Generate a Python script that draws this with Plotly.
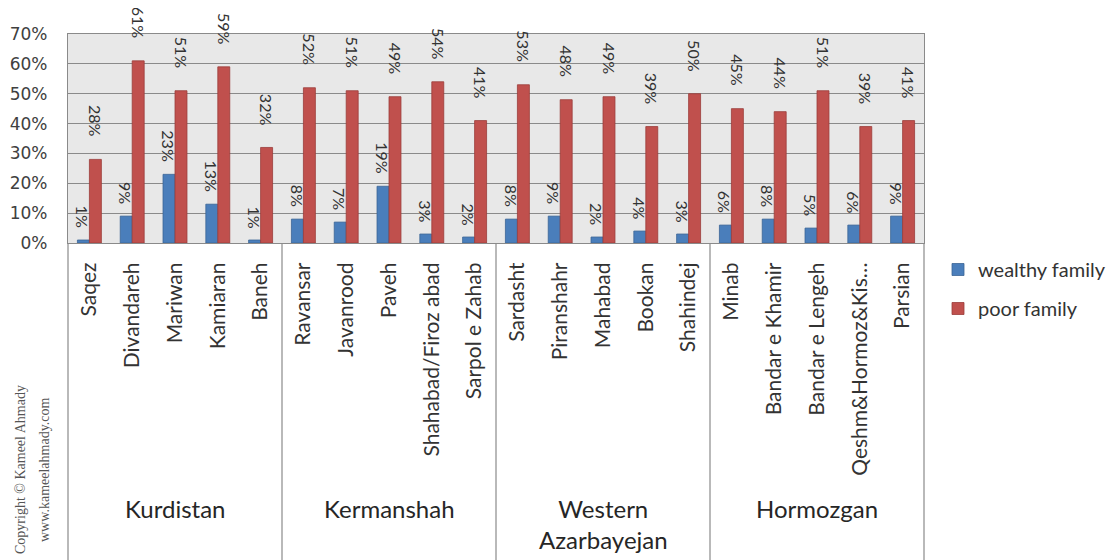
import plotly.graph_objects as go

provinces = ["Kurdistan", "Kermanshah", "Western<br>Azarbayejan", "Hormozgan"]
cities_per_province = [
    ["Saqez", "Divandareh", "Mariwan", "Kamiaran", "Baneh"],
    ["Ravansar", "Javanrood", "Paveh", "Shahabad/Firoz abad", "Sarpol e Zahab"],
    ["Sardasht", "Piranshahr", "Mahabad", "Bookan", "Shahindej"],
    ["Minab", "Bandar e Khamir", "Bandar e Lengeh", "Qeshm&Hormoz&Kis\u2026", "Parsian"],
]
cities = [c for grp in cities_per_province for c in grp]

wealthy = [1, 9, 23, 13, 1, 8, 7, 19, 3, 2, 8, 9, 2, 4, 3, 6, 8, 5, 6, 9]
poor = [28, 61, 51, 59, 32, 52, 51, 49, 54, 41, 53, 48, 49, 39, 50, 45, 44, 51, 39, 41]

y_ticks = [0, 10, 20, 30, 40, 50, 60, 70]
y_ticktext = [f"{v}%" for v in y_ticks]

# layout geometry (page body adds an 8px offset)
OFF = 8
W, H = 1116 - OFF, 560 - OFF
ML, MT = 68 - OFF, 34 - OFF
PR, PB = 924 - OFF, 243 - OFF
MR, MB = W - PR, H - PB
PW = W - ML - MR
PH = H - MT - MB


def px_x(ref_px):
    return (ref_px - OFF - ML) / PW


def px_y(ref_px):
    return (PB - (ref_px - OFF)) / PH


BARGAP = 0.44
n = len(cities)
cat_w = PW / n
bar_off = cat_w * (1 - BARGAP) / 4

BLUE = "#4a7ebb"
RED = "#c0504d"
GRID = "#8a8a8a"

fig = go.Figure()
fig.add_trace(go.Bar(
    x=cities, y=wealthy, name="wealthy family",
    marker=dict(color=BLUE, line=dict(color="#3b6496", width=0.8)),
    legendgroup="w",
))
fig.add_trace(go.Bar(
    x=cities, y=poor, name="poor family",
    marker=dict(color=RED, line=dict(color="#9a3c3a", width=0.8)),
    legendgroup="p",
))

label_font = dict(family="Lato", size=16, color="#333333")
for c, v in zip(cities, wealthy):
    fig.add_annotation(x=c, y=v, xref="x", yref="y", text=f"{v}%", showarrow=False,
                       textangle=90, yanchor="bottom", xanchor="center",
                       xshift=-bar_off, yshift=10, font=label_font)
for c, v in zip(cities, poor):
    fig.add_annotation(x=c, y=v, xref="x", yref="y", text=f"{v}%", showarrow=False,
                       textangle=90, yanchor="bottom", xanchor="center",
                       xshift=bar_off, yshift=20, font=label_font)

# group dividers and province labels
bottom_paper = -MB / PH
start = 0
bounds = [0]
for grp in cities_per_province:
    start += len(grp)
    bounds.append(start)
for b in bounds:
    fig.add_shape(type="line", xref="paper", yref="paper",
                  x0=b / n, x1=b / n, y0=0, y1=bottom_paper,
                  line=dict(color=GRID, width=1.2))
for i, prov in enumerate(provinces):
    xc = (bounds[i] + bounds[i + 1]) / 2 / n
    fig.add_annotation(x=xc, y=px_y(492), xref="paper", yref="paper",
                       text=prov, showarrow=False, yanchor="top", xanchor="center",
                       font=dict(family="Lato", size=24, color="#262626"))

# copyright
for txt, rx in [("Copyright \u00a9 Kameel Ahmady", 21), ("www.kameelahmady.com", 45)]:
    fig.add_annotation(x=px_x(rx), y=px_y(470), xref="paper", yref="paper",
                       text=txt, showarrow=False, textangle=-90,
                       xanchor="center", yanchor="middle",
                       font=dict(family="Liberation Serif", size=14, color="#555555"))

fig.update_layout(
    width=W, height=H,
    margin=dict(l=ML, r=MR, t=MT, b=MB, pad=0, autoexpand=False),
    paper_bgcolor="white",
    plot_bgcolor="#e8e8e8",
    barmode="group",
    bargap=BARGAP,
    bargroupgap=0,
    showlegend=True,
    legend=dict(x=px_x(938), xanchor="left", y=px_y(250), yanchor="top",
                font=dict(family="Lato", size=20, color="#333333"),
                tracegroupgap=10, bgcolor="rgba(0,0,0,0)", itemwidth=30),
    font=dict(family="Lato"),
)
fig.update_xaxes(
    type="category", range=[-0.5, n - 0.5], automargin=False,
    tickangle=-90, tickfont=dict(family="Lato", size=21, color="#333333"),
    showgrid=False, showline=True, linecolor=GRID, linewidth=1.2, mirror=True,
    ticks="", ticklabelstandoff=10,
)
fig.update_yaxes(
    range=[0, 70], tickmode="array", tickvals=y_ticks, ticktext=y_ticktext,
    automargin=False,
    tickfont=dict(family="DejaVu Sans", size=17, color="#404040"),
    showgrid=True, gridcolor=GRID, gridwidth=1.2,
    showline=True, linecolor=GRID, linewidth=1.2, mirror=True,
    zeroline=False, ticks="", ticklabelstandoff=16,
)

fig.write_html("out.html")
